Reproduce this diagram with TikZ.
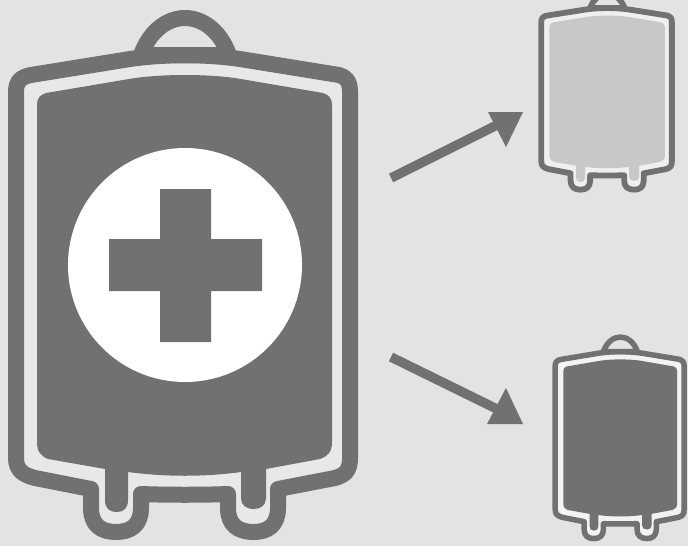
\documentclass[tikz,border=0pt]{standalone}
\definecolor{bgc}{HTML}{E3E3E3}
\definecolor{darkc}{HTML}{717171}
\definecolor{gapc}{HTML}{E8E8E8}
\definecolor{palec}{HTML}{C8C8C8}
\newcommand{\bagshape}[3]{% line width, fill colour, gap colour
  \fill[darkc] (133,52) -- (238,52) -- (238,62) -- (133,62) -- cycle;
  \draw[line width=#1, darkc, fill=#3, line join=round]
    (16,92) .. controls (16,81) and (21,77) .. (31,75)
    -- (130,59) .. controls (165,54) and (205,54) .. (240,59)
    -- (339,75) .. controls (346,77) and (350,81) .. (350,92)
    -- (350,458) .. controls (350,471) and (345,475) .. (335,478)
    -- (278,489) -- (278,508) .. controls (278,525) and (268,532) .. (254,532)
    .. controls (238,532) and (228,525) .. (228,508)
    -- (228,494) .. controls (205,495) and (165,495) .. (141,494)
    -- (141,508) .. controls (141,525) and (131,532) .. (116,532)
    .. controls (101,532) and (91,525) .. (91,508)
    -- (91,489) -- (35,478) .. controls (24,475) and (16,471) .. (16,458) -- cycle;
  \fill[#2]
    (37,105) .. controls (37,98) and (40,95) .. (46,93)
    -- (135,78) .. controls (165,74) and (205,74) .. (235,78)
    -- (323,93) .. controls (329,95) and (332,98) .. (332,105)
    -- (332,442) .. controls (332,452) and (328,456) .. (320,459)
    -- (266,469) -- (266,498) .. controls (266,505) and (261,509) .. (254,509)
    .. controls (246,509) and (241,505) .. (241,498)
    -- (241,472) .. controls (205,477) and (165,477) .. (128,472)
    -- (128,500) .. controls (128,508) and (124,512) .. (117,512)
    .. controls (109,512) and (105,508) .. (105,500)
    -- (105,469) -- (48,459) .. controls (41,456) and (37,452) .. (37,442) -- cycle;
  \draw[line width=#1, darkc, fill=bgc, line join=round]
    (141,55) .. controls (150,30) and (168,18) .. (185,18)
    .. controls (202,18) and (220,30) .. (229,55)
    .. controls (205,55) and (165,55) .. (141,55) -- cycle;
}
\begin{document}
\begin{tikzpicture}[x=1pt,y=-1pt,
  arrowline/.style={line width=9.5pt,darkc},
  arrowhead/.style={fill=darkc}]
\useasboundingbox (0,0) rectangle (688,546);
\fill[bgc] (0,0) rectangle (688,546);
% main bag
\begin{scope}
  \bagshape{16pt}{darkc}{gapc}
  \fill[white] (185,265) circle (117);
  \fill[darkc] (160,189) -- (211,189) -- (211,239) -- (262,239) -- (262,291) -- (211,291) -- (211,342) -- (160,342) -- (160,291) -- (109,291) -- (109,239) -- (160,239) -- cycle;
\end{scope}
% top right bag
\begin{scope}
  \clip (520,0) rectangle (688,546);
  \begin{scope}[shift={(535,-13)},x=0.391pt,y=-0.381pt]
    \bagshape{5.8pt}{palec}{gapc!70!white}
  \end{scope}
\end{scope}
% bottom right bag
\begin{scope}[shift={(549,330)},x=0.386pt,y=-0.392pt]
  \bagshape{5.5pt}{darkc}{gapc!50!white}
\end{scope}
% arrows
\coordinate (a1s) at (391,178);
\coordinate (a1e) at (503,122);
\coordinate (a2s) at (391,357);
\coordinate (a2e) at (503,412);
\draw[arrowline] (a1s) -- (a1e);
\fill[arrowhead] (523,112) -- (488,112) -- (506,147) -- cycle;
\draw[arrowline] (a2s) -- (a2e);
\fill[arrowhead] (523,424) -- (506,388) -- (487,424) -- cycle;
\end{tikzpicture}
\end{document}
